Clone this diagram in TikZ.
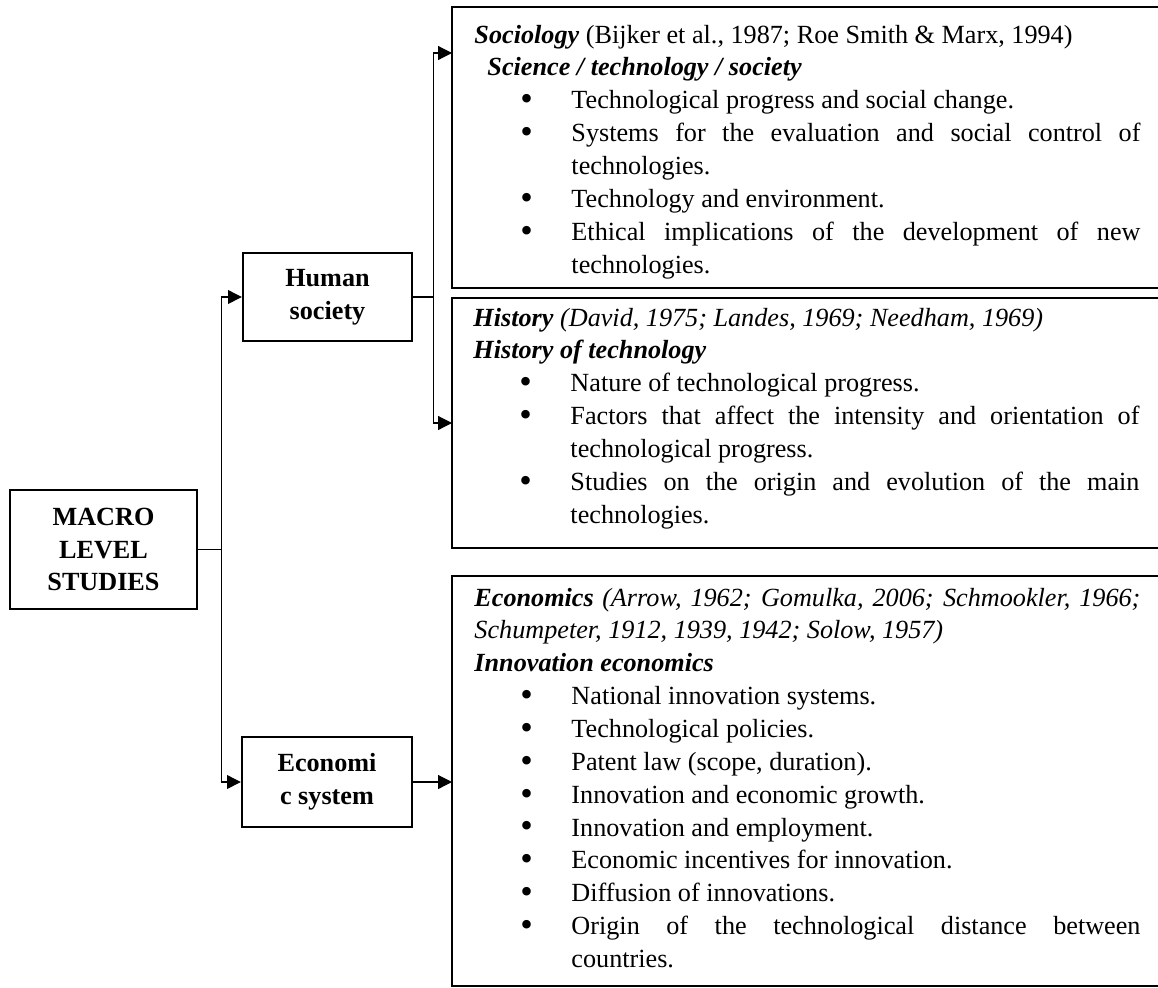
\documentclass[tikz,border=0pt]{standalone}
\usepackage{fontspec}
\setmainfont{Liberation Serif}
\usepackage{tikz}
\usetikzlibrary{arrows.meta}
\newlength{\pxlen}
\setlength{\pxlen}{0.42pt}
\hyphenpenalty=10000
\newcommand{\bitem}{\par\noindent\hangindent=97\pxlen\hangafter=1\hbox to 97\pxlen{\hspace{46\pxlen}\raisebox{-0.8pt}{\fontsize{15}{13.8}\selectfont\textbullet}\hfil}}
\tikzstyle{smallbox}=[draw, line width=1pt, align=center, inner sep=0pt, font=\fontsize{11}{13.8}\selectfont\bfseries]
\tikzstyle{bigbox}=[draw, line width=1.2pt, inner sep=0pt, outer sep=0pt, anchor=north west, minimum width=730*\pxlen]
\tikzstyle{boxtext}=[anchor=base west, inner sep=0pt, text width=666*\pxlen, align=justify, font=\fontsize{11}{13.8}\selectfont]
\tikzstyle{link}=[line width=0.5pt, -{Triangle[length=5.8pt,width=5.8pt]}]

\begin{document}
\begin{tikzpicture}[x=0.42pt, y=-0.42pt]
        \useasboundingbox (0,0) rectangle (1158,987);
        \clip (0,0) rectangle (1158,987);
        % left column
        \node[smallbox, minimum width=187*\pxlen, minimum height=119*\pxlen] (macro) at (103.5,549.5) {MACRO\\LEVEL\\STUDIES};
        \node[smallbox, minimum width=169*\pxlen, minimum height=88*\pxlen] (hum) at (327.5,297) {Human\\society};
        \node[smallbox, minimum width=170*\pxlen, minimum height=90*\pxlen] (eco) at (327,782) {Economi\\c system};
        % right column
        \node[bigbox, minimum height=281*\pxlen] (soc) at (452,7) {};
        \node[bigbox, minimum height=250*\pxlen] (hist) at (452,298) {};
        \node[bigbox, minimum height=410*\pxlen] (econ) at (452,576) {};
        \node[boxtext] (soctext) at (474,43) {\textbf{\textit{Sociology}} (Bijker et al., 1987; Roe Smith \& Marx, 1994)\par
            \hspace*{13\pxlen}\textbf{\textit{Science / technology / society}}
            \bitem Technological progress and social change.
            \bitem Systems for the evaluation and social control of\linebreak technologies.
            \bitem Technology and environment.
            \bitem Ethical implications of the development of new\linebreak technologies.\par};
        \node[boxtext] (histtext) at (473,326) {\textbf{\textit{History}} \textit{(David, 1975; Landes, 1969; Needham, 1969)}\par
            \textbf{\textit{History of technology}}
            \bitem Nature of technological progress.
            \bitem Factors that affect the intensity and orientation of\linebreak technological progress.
            \bitem Studies on the origin and evolution of the main\linebreak technologies.\par};
        \node[boxtext] (econtext) at (474,606) {\textbf{\textit{Economics}} \textit{(Arrow, 1962; Gomulka, 2006; Schmookler, 1966;\linebreak Schumpeter, 1912, 1939, 1942; Solow, 1957)}\par
            \textbf{\textit{Innovation economics}}
            \bitem National innovation systems.
            \bitem Technological policies.
            \bitem Patent law (scope, duration).
            \bitem Innovation and economic growth.
            \bitem Innovation and employment.
            \bitem Economic incentives for innovation.
            \bitem Diffusion of innovations.
            \bitem Origin of the technological distance between\linebreak countries.\par};
        % connectors
        \draw[link] (macro.east) -- ++(23,0) |- (hum.west);
        \draw[link] (macro.east) -- ++(23,0) |- (eco.west);
        \draw[link] (hum.east) -- ++(20,0) |- ([yshift=-46*\pxlen]soc.north west);
        \draw[link] (hum.east) -- ++(20,0) |- (hist.west);
        \draw[link] (eco.east) -- (econ.west |- eco.east);
    \end{tikzpicture}
\end{document}
